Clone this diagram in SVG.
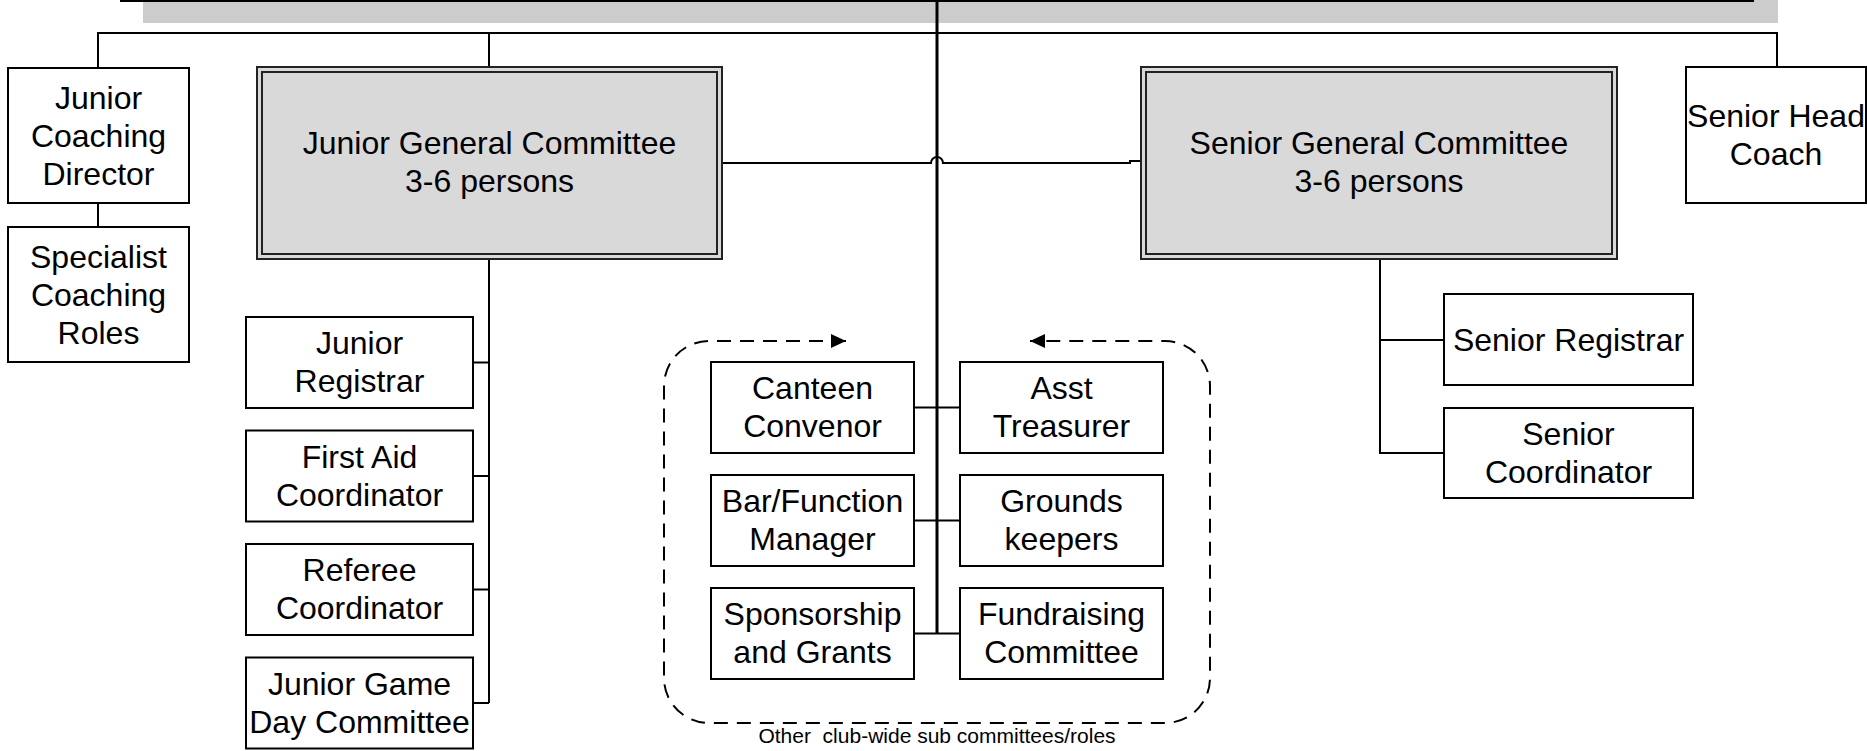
<svg xmlns="http://www.w3.org/2000/svg" width="1867" height="751" viewBox="0 0 1867 751">
<style>
.box{fill:#fff;stroke:#000;stroke-width:2}
.gc{fill:#d9d9d9;stroke:#222;stroke-width:2}
.gci{fill:none;stroke:#222;stroke-width:2}
.t{font-family:"Liberation Sans",Arial,sans-serif;font-size:32px;text-anchor:middle;fill:#000}
.cap{font-family:"Liberation Sans",Arial,sans-serif;font-size:21px;text-anchor:middle;fill:#000;white-space:pre}
.c{stroke:#000;stroke-width:2;fill:none}
.main{stroke:#000;stroke-width:3;fill:none}
.dash{stroke:#000;stroke-width:2;fill:none;stroke-dasharray:14 9}
</style>
<defs>
<marker id="ah" markerUnits="userSpaceOnUse" markerWidth="16" markerHeight="14" refX="15" refY="7" orient="auto-start-reverse">
<path d="M0,0 L15,7 L0,14 z" fill="#000"/>
</marker>
</defs>
<rect width="1867" height="751" fill="#fff"/>

<g id="top">
<rect x="143" y="0" width="1635" height="23" fill="#cccccc"/>
<rect x="120" y="-40" width="1634" height="41" fill="#fff"/>
<line x1="120" y1="1" x2="1754" y2="1" stroke="#000" stroke-width="2"/>
</g>

<g id="connectors">
<path class="c" d="M98 68 V33 H1777 V67"/>
<path class="c" d="M489 33 V67"/>
<path class="c" d="M98 203 V227"/>
<path class="c" d="M722 163 H931 A6 6 0 0 1 943 163 H1130 V161 H1141"/>
<path class="c" d="M489 259 V703"/>
<path class="c" d="M473 362.5 H489 M473 476 H489 M473 589.5 H489 M473 703 H489"/>
<path class="c" d="M1380 259 V453 H1444 M1380 340 H1444"/>
<path class="c" d="M914 407.5 H960 M914 520.5 H960 M914 633.5 H960"/>
<path class="main" d="M937 0 V634"/>
<path class="dash" marker-start="url(#ah)" marker-end="url(#ah)" d="M846 341 H709 A45 45 0 0 0 664 386 V678 A45 45 0 0 0 709 723 H1165 A45 45 0 0 0 1210 678 V386 A45 45 0 0 0 1165 341 H1030"/>
</g>

<g id="junior-coaching-director">
<rect class="box" x="8" y="68" width="181" height="135"/>
<text class="t" x="98.5" y="109">Junior</text>
<text class="t" x="98.5" y="147">Coaching</text>
<text class="t" x="98.5" y="185">Director</text>
</g>
<g id="specialist-coaching-roles">
<rect class="box" x="8" y="227" width="181" height="135"/>
<text class="t" x="98.5" y="268">Specialist</text>
<text class="t" x="98.5" y="306">Coaching</text>
<text class="t" x="98.5" y="344">Roles</text>
</g>

<g id="junior-general-committee">
<rect class="gc" x="257" y="67" width="465" height="192"/>
<rect class="gci" x="262" y="72" width="455" height="182"/>
<text class="t" x="489.5" y="154">Junior General Committee</text>
<text class="t" x="489.5" y="192">3-6 persons</text>
</g>

<g id="senior-general-committee">
<rect class="gc" x="1141" y="67" width="476" height="192"/>
<rect class="gci" x="1146" y="72" width="466" height="182"/>
<text class="t" x="1379" y="154">Senior General Committee</text>
<text class="t" x="1379" y="192">3-6 persons</text>
</g>

<g id="senior-head-coach">
<rect class="box" x="1686" y="67" width="180" height="136"/>
<text class="t" x="1776" y="127">Senior Head</text>
<text class="t" x="1776" y="165">Coach</text>
</g>

<g id="junior-registrar">
<rect class="box" x="246" y="317" width="227" height="91"/>
<text class="t" x="359.5" y="354">Junior</text>
<text class="t" x="359.5" y="392">Registrar</text>
</g>
<g id="first-aid-coordinator">
<rect class="box" x="246" y="430.5" width="227" height="91"/>
<text class="t" x="359.5" y="468">First Aid</text>
<text class="t" x="359.5" y="506">Coordinator</text>
</g>
<g id="referee-coordinator">
<rect class="box" x="246" y="544" width="227" height="91"/>
<text class="t" x="359.5" y="581">Referee</text>
<text class="t" x="359.5" y="619">Coordinator</text>
</g>
<g id="junior-game-day-committee">
<rect class="box" x="246" y="657.5" width="227" height="91"/>
<text class="t" x="359.5" y="695">Junior Game</text>
<text class="t" x="359.5" y="733">Day Committee</text>
</g>

<g id="canteen-convenor">
<rect class="box" x="711" y="362" width="203" height="91"/>
<text class="t" x="812.5" y="399">Canteen</text>
<text class="t" x="812.5" y="437">Convenor</text>
</g>
<g id="asst-treasurer">
<rect class="box" x="960" y="362" width="203" height="91"/>
<text class="t" x="1061.5" y="399">Asst</text>
<text class="t" x="1061.5" y="437">Treasurer</text>
</g>
<g id="bar-function-manager">
<rect class="box" x="711" y="475" width="203" height="91"/>
<text class="t" x="812.5" y="512">Bar/Function</text>
<text class="t" x="812.5" y="550">Manager</text>
</g>
<g id="grounds-keepers">
<rect class="box" x="960" y="475" width="203" height="91"/>
<text class="t" x="1061.5" y="512">Grounds</text>
<text class="t" x="1061.5" y="550">keepers</text>
</g>
<g id="sponsorship-and-grants">
<rect class="box" x="711" y="588" width="203" height="91"/>
<text class="t" x="812.5" y="625">Sponsorship</text>
<text class="t" x="812.5" y="663">and Grants</text>
</g>
<g id="fundraising-committee">
<rect class="box" x="960" y="588" width="203" height="91"/>
<text class="t" x="1061.5" y="625">Fundraising</text>
<text class="t" x="1061.5" y="663">Committee</text>
</g>

<g id="senior-registrar">
<rect class="box" x="1444" y="294" width="249" height="91"/>
<text class="t" x="1568.5" y="351">Senior Registrar</text>
</g>
<g id="senior-coordinator">
<rect class="box" x="1444" y="408" width="249" height="90"/>
<text class="t" x="1568.5" y="445">Senior</text>
<text class="t" x="1568.5" y="483">Coordinator</text>
</g>

<g id="caption">
<text class="cap" x="937" y="743">Other  club-wide sub committees/roles</text>
</g>
</svg>
